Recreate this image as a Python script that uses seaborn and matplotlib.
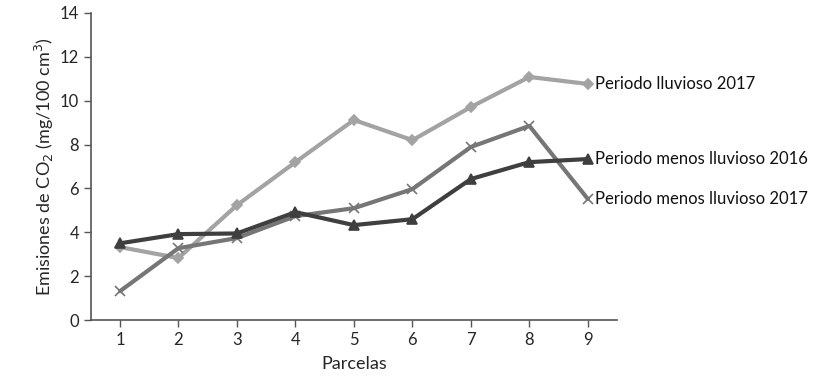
import numpy as np
import pandas as pd
import matplotlib
matplotlib.use('Agg')
import matplotlib.pyplot as plt
import seaborn as sns

parcelas = [1, 2, 3, 4, 5, 6, 7, 8, 9]
lluvioso_2017 = [3.33, 2.83, 5.24, 7.2, 9.12, 8.2, 9.71, 11.08, 10.76]
menos_2016 = [3.5, 3.92, 3.95, 4.92, 4.33, 4.6, 6.43, 7.2, 7.34]
menos_2017 = [1.32, 3.28, 3.74, 4.74, 5.1, 5.97, 7.89, 8.85, 5.52]

series = ['Periodo lluvioso 2017', 'Periodo menos lluvioso 2016', 'Periodo menos lluvioso 2017']
df = pd.DataFrame({
    'Parcelas': parcelas * 3,
    'valor': lluvioso_2017 + menos_2016 + menos_2017,
    'serie': [s for s in series for _ in parcelas],
})

sns.set_style('white')
plt.rcParams['font.family'] = ['Lato', 'DejaVu Sans']

fig = plt.figure(figsize=(8.25, 3.78), dpi=100)
ax = fig.add_axes([0.110, 0.153, 0.638, 0.813])

colores = {series[0]: '#a3a3a3', series[1]: '#3f3f3f', series[2]: '#767676'}
marcadores = {series[0]: 'D', series[1]: '^', series[2]: 'x'}
tam = {series[0]: 5, series[1]: 7, series[2]: 7}

for s in [series[0], series[2], series[1]]:
    d = df[df['serie'] == s]
    sns.lineplot(data=d, x='Parcelas', y='valor', ax=ax, color=colores[s],
                 linewidth=3, marker=marcadores[s], markersize=tam[s],
                 markeredgecolor=colores[s], markeredgewidth=1.2, legend=False)
    ax.text(d['Parcelas'].iloc[-1] + 0.12, d['valor'].iloc[-1], s,
            va='center', ha='left', fontsize=12, clip_on=False, color='#111111')

ax.set_xlim(0.5, 9.5)
ax.set_ylim(0, 14)
ax.set_xticks(parcelas)
ax.set_yticks(range(0, 15, 2))
ax.set_xlabel('Parcelas', fontsize=13, labelpad=6)
ax.set_ylabel('Emisiones de CO$_2$ (mg/100 cm$^3$)', fontsize=13, labelpad=3)
ax.tick_params(axis='both', which='major', direction='out', length=5, width=1,
               color='#555555', labelsize=12, left=True, bottom=True)
for side in ['top', 'right']:
    ax.spines[side].set_visible(False)
for side in ['left', 'bottom']:
    ax.spines[side].set_color('#555555')
    ax.spines[side].set_linewidth(1.2)

fig.savefig('out.png', dpi=100)
